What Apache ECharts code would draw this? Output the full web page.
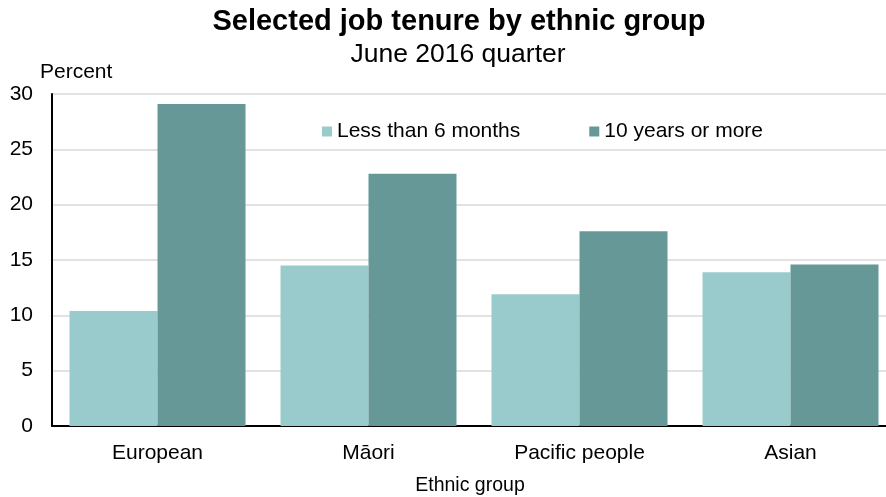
<!DOCTYPE html>
<html>
<head>
<meta charset="utf-8">
<script src="https://cdn.jsdelivr.net/npm/echarts@6/dist/echarts.min.js"></script>
<style>html,body{margin:0;padding:0;background:#fff;overflow:hidden;width:886px;height:497px}#c{width:896px;height:497px}</style>
</head>
<body>
<div id="c"></div>
<script>
var categories = ['European', 'M\u0101ori', 'Pacific people', 'Asian'];
var seriesNames = ['Less than 6 months', '10 years or more'];
var lessThan6Months = [10.4, 14.5, 11.9, 13.9];
var tenYearsOrMore = [29.1, 22.8, 17.6, 14.6];
var titleText = 'Selected job tenure by ethnic group';
var subtitleText = 'June 2016 quarter';
var yAxisTitle = 'Percent';
var xAxisTitle = 'Ethnic group';

var FONT = '"Liberation Sans", Arial, sans-serif';
var chart = echarts.init(document.getElementById('c'));
chart.setOption({
  backgroundColor: '#ffffff',
  animation: false,
  textStyle: { fontFamily: FONT, color: '#000' },
  graphic: [
    { type: 'text', x: 459, y: 22, style: { text: titleText, align: 'center', verticalAlign: 'middle', font: 'bold 29px ' + FONT, fill: '#000' } },
    { type: 'text', x: 458, y: 55, style: { text: subtitleText, align: 'center', verticalAlign: 'middle', font: '26.5px ' + FONT, fill: '#000' } },
    { type: 'text', x: 40, y: 72, style: { text: yAxisTitle, align: 'left', verticalAlign: 'middle', font: '21px ' + FONT, fill: '#000' } },
    { type: 'text', x: 470, y: 486, style: { text: xAxisTitle, align: 'center', verticalAlign: 'middle', font: '19.5px ' + FONT, fill: '#000' } }
  ],
  legend: {
    data: seriesNames,
    left: 317,
    top: 116,
    icon: 'rect',
    itemWidth: 10,
    itemHeight: 10,
    itemGap: 69,
    textStyle: { fontFamily: FONT, fontSize: 21, color: '#000' }
  },
  grid: { left: 52, right: 0, top: 94, bottom: 71, containLabel: false },
  xAxis: {
    type: 'category',
    data: categories,
    axisLine: { show: true, lineStyle: { color: '#000', width: 2 } },
    axisTick: { show: false },
    axisLabel: { margin: 17, fontSize: 21, color: '#000', fontFamily: FONT },
    splitLine: { show: false }
  },
  yAxis: {
    type: 'value',
    min: 0,
    max: 30,
    interval: 5,
    axisLine: { show: true, lineStyle: { color: '#000', width: 2 } },
    axisTick: { show: false },
    axisLabel: { margin: 19, fontSize: 21, color: '#000', fontFamily: FONT },
    splitLine: { show: true, lineStyle: { color: '#d9d9d9', width: 1.5 } }
  },
  series: [
    { name: seriesNames[0], type: 'bar', data: lessThan6Months, barWidth: 88, barGap: '0%', itemStyle: { color: '#9acbcc' } },
    { name: seriesNames[1], type: 'bar', data: tenYearsOrMore, barWidth: 88, barGap: '0%', itemStyle: { color: '#669898' } }
  ]
});
</script>
</body>
</html>
